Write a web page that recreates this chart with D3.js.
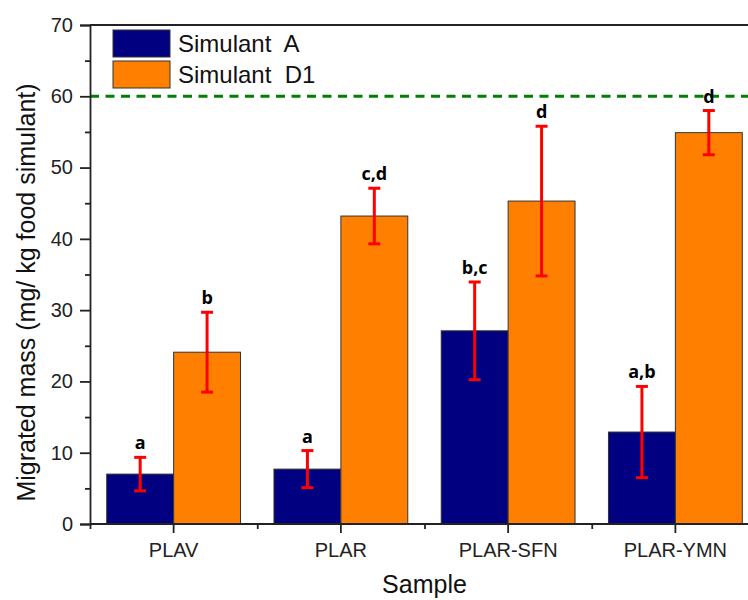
<!DOCTYPE html>
<html>
<head>
<meta charset="utf-8">
<script src="https://cdn.jsdelivr.net/npm/d3@7"></script>
<style>
  html, body { margin: 0; padding: 0; background: #fff; }
  svg { display: block; }
</style>
</head>
<body>
<svg id="chart" width="748" height="600"></svg>
<script>
// Samples, series and measured values (mean ± deviation)
const categories = ["PLAV", "PLAR", "PLAR-SFN", "PLAR-YMN"];
const seriesNames = ["Simulant  A", "Simulant  D1"];
const simulantA = [7.0, 7.7, 27.1, 12.9];
const simulantAErr = [2.35, 2.6, 6.85, 6.4];
const simulantD1 = [24.1, 43.2, 45.3, 54.9];
const simulantD1Err = [5.6, 3.9, 10.5, 3.1];
const lettersA = ["a", "a", "b,c", "a,b"];
const lettersD1 = ["b", "c,d", "d", "d"];
const yTicks = [0, 10, 20, 30, 40, 50, 60, 70];
const limitValue = 60;

const colors = ["#000080", "#FF8000"];

const svg = d3.select("#chart");
const plotLeft = 90, plotRight = 759, plotTop = 25, plotBottom = 524;

const x = d3.scaleBand().domain(categories).range([plotLeft, plotRight])
  .paddingInner(0.2).paddingOuter(0.1);
const xs = d3.scaleBand().domain([0, 1]).range([0, x.bandwidth()]);
const y = d3.scaleLinear().domain([0, 70]).range([plotBottom, plotTop]);

const rows = [];
categories.forEach((c, i) => {
  rows.push({cat: c, s: 0, v: simulantA[i], e: simulantAErr[i], lab: lettersA[i]});
  rows.push({cat: c, s: 1, v: simulantD1[i], e: simulantD1Err[i], lab: lettersD1[i]});
});

// bars
svg.append("g").selectAll("rect").data(rows).join("rect")
  .attr("x", d => x(d.cat) + xs(d.s))
  .attr("y", d => y(d.v))
  .attr("width", xs.bandwidth())
  .attr("height", d => y(0) - y(d.v))
  .attr("fill", d => colors[d.s])
  .attr("stroke", "#333")
  .attr("stroke-width", 1);

// limit line
svg.append("line")
  .attr("x1", plotLeft).attr("x2", plotRight)
  .attr("y1", y(limitValue)).attr("y2", y(limitValue))
  .attr("stroke", "#008000").attr("stroke-width", 3)
  .attr("stroke-dasharray", "9,6.5");

// error bars
const eb = svg.append("g").attr("stroke", "#FF0000").attr("stroke-width", 3);
rows.forEach(d => {
  const cx = x(d.cat) + xs(d.s) + xs.bandwidth() / 2;
  const y1 = y(d.v + d.e), y2 = y(d.v - d.e);
  eb.append("line").attr("x1", cx).attr("x2", cx).attr("y1", y1).attr("y2", y2);
  eb.append("line").attr("x1", cx - 6).attr("x2", cx + 6).attr("y1", y1).attr("y2", y1);
  eb.append("line").attr("x1", cx - 6).attr("x2", cx + 6).attr("y1", y2).attr("y2", y2);
});

// significance letters
svg.append("g").selectAll("text").data(rows).join("text")
  .attr("x", d => x(d.cat) + xs(d.s) + xs.bandwidth() / 2)
  .attr("y", d => y(d.v + d.e) - 8)
  .attr("text-anchor", "middle")
  .attr("font-family", "'Open Sans', 'Liberation Sans', Arial, sans-serif")
  .attr("font-weight", "bold")
  .attr("font-size", 18)
  .attr("fill", "#000")
  .text(d => d.lab);

// axes
const axisColor = "#222";
const fontFam = "'Liberation Sans', Arial, Helvetica, sans-serif";

const yAxis = svg.append("g").attr("transform", `translate(${plotLeft},0)`)
  .call(d3.axisLeft(y).tickValues(yTicks).tickSize(10).tickPadding(7));
const yMinor = svg.append("g").attr("transform", `translate(${plotLeft},0)`)
  .call(d3.axisLeft(y).tickValues(yTicks.slice(0, -1).map(v => v + 5)).tickSize(5).tickFormat(""));
yMinor.select(".domain").remove();

const xAxis = svg.append("g").attr("transform", `translate(0,${plotBottom})`)
  .call(d3.axisBottom(x).tickSize(9).tickPadding(10));
const bounds = [plotLeft].concat(categories.map(c => x(c) + x.bandwidth() + x.step() * x.paddingInner() / 2));
const xMinor = svg.append("g").attr("transform", `translate(0,${plotBottom})`)
  .call(d3.axisBottom(d3.scaleLinear().domain([0, 748]).range([0, 748]))
    .tickValues(bounds).tickSize(5).tickFormat(""));
xMinor.select(".domain").remove();

[yAxis, yMinor, xAxis, xMinor].forEach(g => {
  g.selectAll("path, line").attr("stroke", axisColor).attr("stroke-width", 1.8);
  g.selectAll("text").attr("font-family", fontFam).attr("font-size", 20).attr("fill", axisColor);
});
xAxis.select(".domain").attr("d", `M${plotLeft},0H${plotRight}`);

// top frame line
svg.append("line").attr("x1", plotLeft).attr("x2", plotRight).attr("y1", plotTop).attr("y2", plotTop)
  .attr("stroke", axisColor).attr("stroke-width", 1.8);

// axis titles
svg.append("text")
  .attr("transform", `translate(35,${(plotTop + plotBottom) / 2 + 18}) rotate(-90)`)
  .attr("text-anchor", "middle")
  .attr("font-family", fontFam).attr("font-size", 25).attr("fill", "#111")
  .text("Migrated mass (mg/ kg food simulant)");
svg.append("text")
  .attr("x", (plotLeft + plotRight) / 2).attr("y", 593)
  .attr("text-anchor", "middle")
  .attr("font-family", fontFam).attr("font-size", 25).attr("fill", "#111")
  .text("Sample");

// legend
const lg = svg.append("g").attr("transform", "translate(113,30)");
seriesNames.forEach((n, i) => {
  lg.append("rect").attr("x", 0).attr("y", i * 31).attr("width", 57).attr("height", 27)
    .attr("fill", colors[i]).attr("stroke", "#333").attr("stroke-width", 1);
  lg.append("text").attr("x", 65).attr("y", i * 30.5 + 22)
    .attr("font-family", fontFam).attr("font-size", 24).attr("fill", "#111")
    .attr("xml:space", "preserve").style("white-space", "pre")
    .text(n);
});
</script>
</body>
</html>
